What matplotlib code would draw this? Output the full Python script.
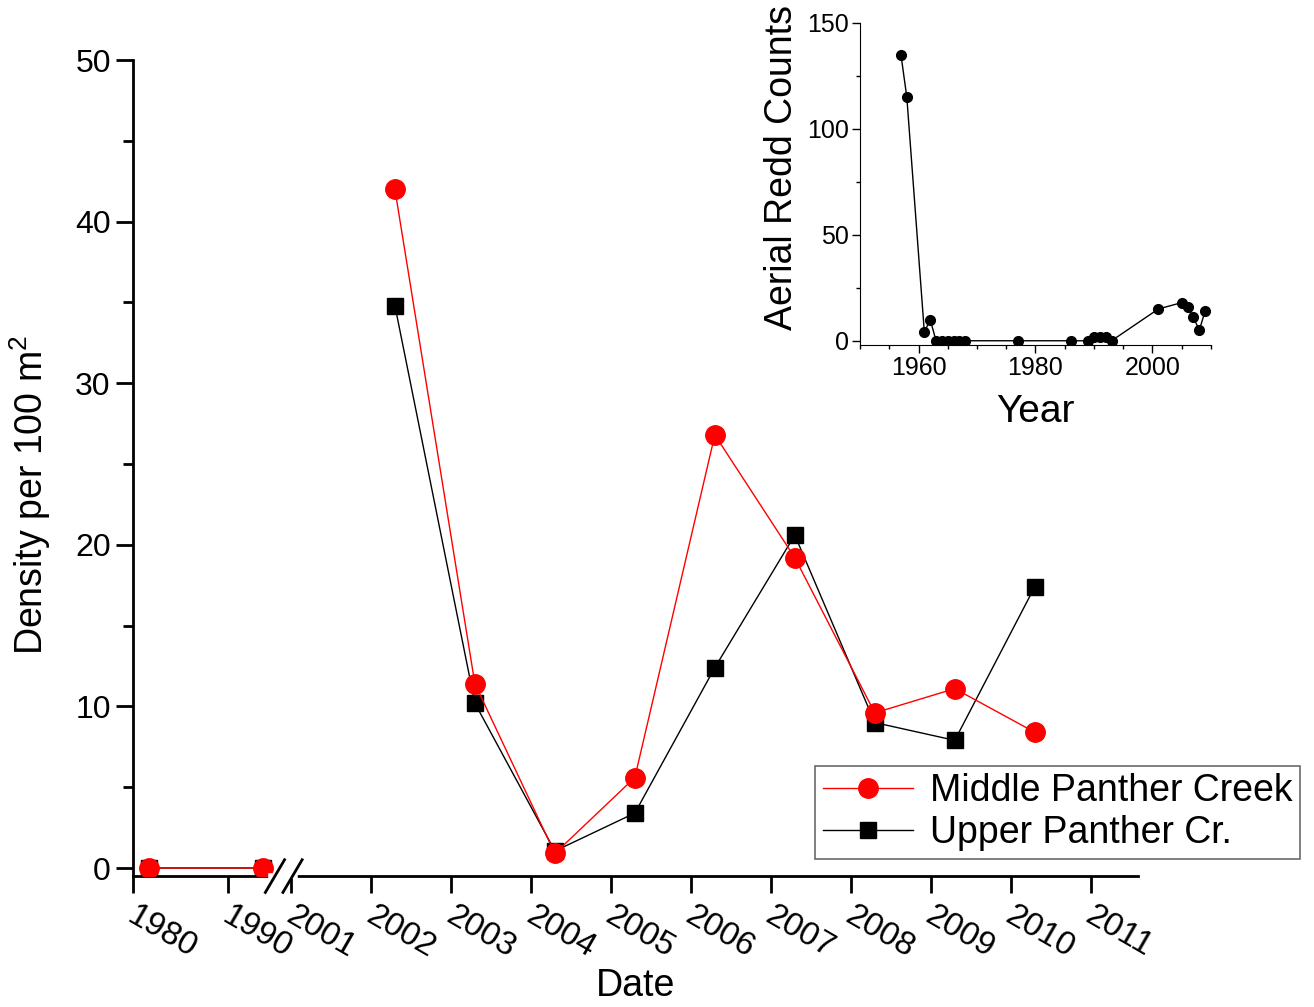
import numpy as np
import matplotlib
matplotlib.use("Agg")
import matplotlib.pyplot as plt
from matplotlib.ticker import MultipleLocator
import matplotlib.transforms as mtransforms

plt.rcParams['font.family'] = ['Liberation Sans', 'DejaVu Sans']
plt.rcParams['mathtext.fontset'] = 'custom'
plt.rcParams['mathtext.rm'] = 'Liberation Sans'
plt.rcParams['mathtext.it'] = 'Liberation Sans:italic'

# main chart data (survey year, density per 100 m2)
middle_years = [1981.7, 1993.7, np.nan, 2002.3, 2003.3, 2004.3, 2005.3, 2006.3, 2007.3, 2008.3, 2009.3, 2010.3]
middle_density = [0, 0, np.nan, 42.0, 11.4, 0.9, 5.6, 26.8, 19.2, 9.6, 11.1, 8.4]
upper_years = [1981.7, 1993.7, np.nan, 2002.3, 2003.3, 2004.3, 2005.3, 2006.3, 2007.3, 2008.3, 2009.3, 2010.3]
upper_density = [0, 0, np.nan, 34.8, 10.2, 1.05, 3.4, 12.4, 20.6, 9.0, 7.9, 17.4]
tick_years = [1980, 1990, 2001, 2002, 2003, 2004, 2005, 2006, 2007, 2008, 2009, 2010, 2011]

# inset data (aerial redd counts)
redd_years = [1957, 1958, 1961, 1962, 1963, 1964, 1965, 1966, 1967, 1968, 1977, 1986,
              1989, 1990, 1991, 1992, 1993, 2001, 2005, 2006, 2007, 2008, 2009]
redd_counts = [135, 115, 4, 10, 0, 0, 0, 0, 0, 0, 0, 0,
               0, 2, 2, 2, 0, 15, 18, 16, 11, 5, 14]

# broken x axis: compress the 1970s-1990s part
brk_year = [1970, 1995, 2000.9, 2030]
brk_pos = [1999.025 - 10 * 0.11875, 1999.025 + 15 * 0.11875, 2000.9, 2030]


def fwd(x):
    return np.interp(x, brk_year, brk_pos)


def inv(x):
    return np.interp(x, brk_pos, brk_year)


fig = plt.figure(figsize=(13.14, 10.07), dpi=100)
ax = fig.add_axes([0.1012, 0.130, 0.7648, 0.8104])
ax.set_xscale('function', functions=(fwd, inv))

ax.plot(upper_years, upper_density, color='black', lw=1.0, marker='s', ms=11,
        label='Upper Panther Cr.', zorder=3)
ax.plot(middle_years, middle_density, color='red', lw=1.0, marker='o', ms=14,
        label='Middle Panther Creek', zorder=4)

ax.set_xlim(1980, 2011.59)
ax.set_ylim(-0.5, 50)
for s in ['top', 'right']:
    ax.spines[s].set_visible(False)
for s in ['left', 'bottom']:
    ax.spines[s].set_linewidth(2)

# x ticks with slanted labels written next to each tick
trans = mtransforms.blended_transform_factory(ax.transData, ax.transAxes)
ax.set_xticks(tick_years)
ax.set_xticklabels([])
lab_off = mtransforms.ScaledTranslation(0.05, -0.24, fig.dpi_scale_trans)
for y in tick_years:
    ax.text(y, 0, str(y), transform=trans + lab_off, rotation=-30, ha='left', va='top',
            rotation_mode='anchor', fontsize=24, clip_on=False)

ax.set_yticks([0, 10, 20, 30, 40, 50])
ax.yaxis.set_minor_locator(MultipleLocator(5))
ax.tick_params(axis='both', which='major', direction='out', length=12, width=2, labelsize=23, pad=4)
ax.tick_params(axis='y', which='minor', direction='out', length=7, width=2)

ax.set_xlabel('Date', fontsize=27)
ax.set_ylabel('Density per 100 m$^2$', fontsize=27)
ax.yaxis.set_label_coords(-0.08, 0.467)
ax.xaxis.set_label_coords(0.5, -0.113)
ax.xaxis.label.set_va('top')

# axis break marks
ax.plot([inv(2000.75), inv(2001.05)], [0.0, 0.0], color='white', lw=4, transform=trans,
        clip_on=False, zorder=5)
for p in [2000.8, 2001.02]:
    ax.plot([inv(p - 0.12), inv(p + 0.12)], [-0.02, 0.02], color='black', lw=2,
            transform=trans, clip_on=False, zorder=6)

h, l = ax.get_legend_handles_labels()
leg = ax.legend(h[::-1], l[::-1], loc='upper left', bbox_to_anchor=(0.679, 0.135),
                fontsize=27, frameon=True, fancybox=False, edgecolor='#444444',
                handlelength=2.4, handletextpad=0.45, borderpad=0.2, labelspacing=0.15,
                borderaxespad=0.0)
leg.get_frame().set_linewidth(1.2)

# inset
ins = fig.add_axes([0.6545, 0.6574, 0.2671, 0.3198])
ins.plot(redd_years, redd_counts, color='black', lw=1.0, marker='o', ms=7)
ins.set_xlim(1950, 2010)
ins.set_ylim(-2, 150)
for s in ['top', 'right']:
    ins.spines[s].set_visible(False)
ins.set_xticks([1960, 1980, 2000])
ins.set_yticks([0, 50, 100, 150])
ins.xaxis.set_minor_locator(MultipleLocator(5))
ins.yaxis.set_minor_locator(MultipleLocator(25))
ins.tick_params(axis='both', which='major', direction='out', length=6, width=1, labelsize=18, pad=2)
ins.tick_params(axis='both', which='minor', direction='out', length=3, width=1)
ins.set_xlabel('Year', fontsize=28, labelpad=10)
ins.set_ylabel('Aerial Redd Counts', fontsize=27)
ins.yaxis.set_label_coords(-0.17, 0.55)

fig.savefig('out.png', dpi=100)
